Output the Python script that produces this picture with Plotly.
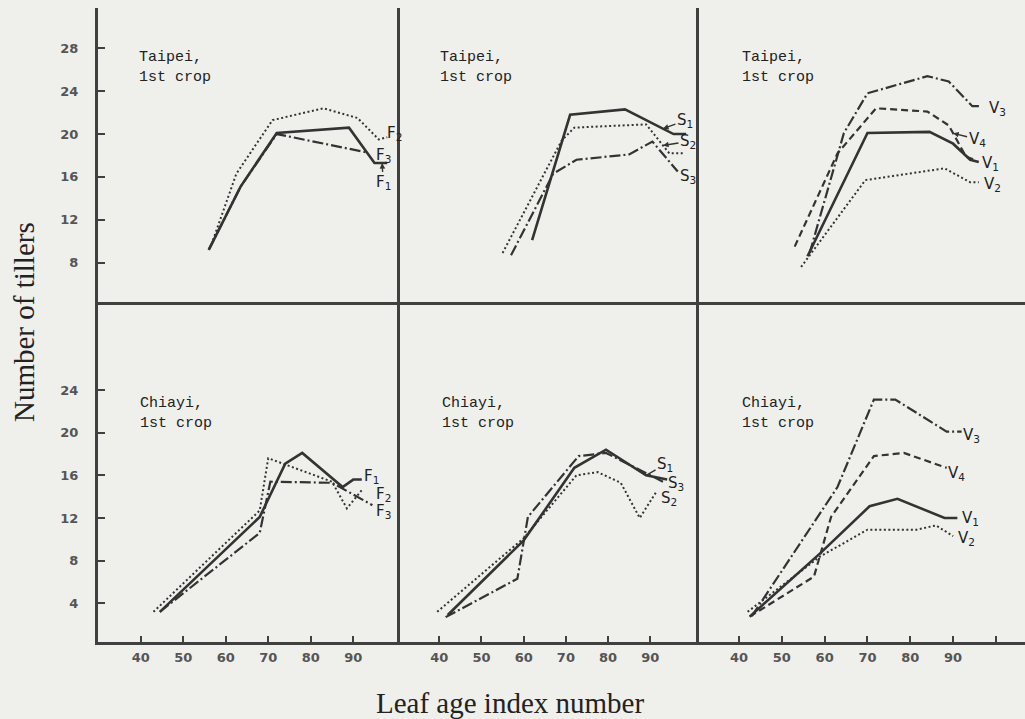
import numpy as np
import plotly.graph_objects as go

# ---------------- data ----------------
# Taipei, 1st crop - F series
tp_F1_x = [56, 63.5, 72, 89, 95, 98]
tp_F1_y = [9.2, 15.1, 20.1, 20.6, 17.3, 17.3]
tp_F2_x = [57, 62.5, 71, 83, 91, 96, 98]
tp_F2_y = [10.1, 16.3, 21.3, 22.4, 21.5, 19.5, 19.7]
tp_F3_x = [56, 63.5, 72, 90, 93]
tp_F3_y = [9.2, 15.1, 20.0, 18.6, 18.3]
# Taipei, 1st crop - S series
tp_S1_x = [62, 71, 84, 95.5, 98.5]
tp_S1_y = [10.1, 21.8, 22.3, 20.0, 20.0]
tp_S2_x = [55, 69, 72, 89, 94.5, 98]
tp_S2_y = [8.9, 19.4, 20.6, 20.9, 18.2, 18.2]
tp_S3_x = [57, 67, 72.5, 85, 90.5, 96.5]
tp_S3_y = [8.7, 16.3, 17.6, 18.1, 19.3, 16.5]
# Taipei, 1st crop - V series
tp_V1_x = [56, 70, 84.5, 90, 94, 96]
tp_V1_y = [8.6, 20.1, 20.2, 19.1, 17.6, 17.4]
tp_V2_x = [54.5, 69.5, 88, 94, 96]
tp_V2_y = [7.6, 15.7, 16.8, 15.5, 15.5]
tp_V3_x = [56.5, 64.5, 70, 84, 89, 94.5, 96.5]
tp_V3_y = [8.9, 20.1, 23.8, 25.4, 24.9, 22.6, 22.6]
tp_V4_x = [53, 63, 72, 84, 89, 93, 95]
tp_V4_y = [9.5, 18.2, 22.4, 22.1, 20.8, 17.9, 17.6]
# Chiayi, 1st crop - F series
cy_F1_x = [44.5, 68, 74, 78, 87.5, 90, 92]
cy_F1_y = [3.2, 12.1, 17.1, 18.1, 14.9, 15.6, 15.6]
cy_F2_x = [43, 68, 70, 79, 85, 88.5, 92]
cy_F2_y = [3.2, 12.7, 17.6, 16.3, 15.4, 12.9, 14.6]
cy_F3_x = [44.5, 68, 70.5, 85, 94.5]
cy_F3_y = [3.2, 10.6, 15.4, 15.3, 13.2]
# Chiayi, 1st crop - S series
cy_S1_x = [42, 60, 72, 79.5, 89, 94]
cy_S1_y = [2.9, 9.9, 16.7, 18.4, 16.0, 15.6]
cy_S2_x = [39.5, 60, 72.5, 77.5, 83, 87.5, 91.5]
cy_S2_y = [3.2, 10.1, 16.0, 16.3, 15.3, 12.0, 14.5]
cy_S3_x = [41.5, 58.5, 61, 73, 79.5, 93]
cy_S3_y = [2.7, 6.3, 12.1, 17.8, 18.1, 15.4]
# Chiayi, 1st crop - V series
cy_V1_x = [42.5, 59, 70.5, 77, 88, 91]
cy_V1_y = [2.75, 8.7, 13.1, 13.8, 12.0, 12.0]
cy_V2_x = [42, 59, 70, 81.5, 86, 90]
cy_V2_y = [3.2, 8.4, 10.9, 10.9, 11.3, 10.3]
cy_V3_x = [43, 63, 71.5, 76.5, 88.5, 92]
cy_V3_y = [2.8, 14.9, 23.1, 23.1, 20.1, 20.1]
cy_V4_x = [42.5, 57.5, 61.5, 71.5, 78.5, 88.5]
cy_V4_y = [2.75, 6.5, 12.1, 17.8, 18.1, 16.7]

panel_titles = ["Taipei,<br>1st crop"] * 3 + ["Chiayi,<br>1st crop"] * 3
top_yticks = [8, 12, 16, 20, 24, 28]
bottom_yticks = [4, 8, 12, 16, 20, 24]
xticks = [40, 50, 60, 70, 80, 90]
xticks_last = [40, 50, 60, 70, 80, 90, 100]
y_title = "Number of tillers"
x_title = "Leaf age index number"

# ---------------- layout geometry (pixels) ----------------
W, H = 1025, 719
L, R, T, B = 98, 0, 8, 77
PW, PH = W - L - R, H - T - B
col_px = [(98, 400), (400, 699), (699, 1025)]
row_px = [(8, 302), (302, 642)]


def px_x(px):
    return (px - L) / PW


def px_y(py):
    return (H - B - py) / PH


x_ranges = [[29.95, 101.0], [30.69, 101.54], [30.65, 106.8]]
y_ranges = [[4.33, 31.76], [0.37, 32.25]]

INK = "#333333"
FRAME = "#404040"
BG = "#efefec"

dash_styles = {
    "solid": dict(dash="solid", width=2.6),
    "dot": dict(dash="2px,2.5px", width=2.0),
    "dashdot": dict(dash="11px,3px,2px,3px", width=2.2),
    "dash": dict(dash="7px,4px", width=2.2),
}

# series: (panel, label, xs, ys, style, label placement)
# placement: (anchor_x or None, dx, dy, arrow, arrowhead) -- pixel offsets, dy down-positive
series = [
    (0, "F<sub>1</sub>", tp_F1_x, tp_F1_y, "solid", (96.8, 1, 20, True, 2)),
    (0, "F<sub>2</sub>", tp_F2_x, tp_F2_y, "dot", (None, 7, -4, False, 0)),
    (0, "F<sub>3</sub>", tp_F3_x, tp_F3_y, "dashdot", (None, 17, 3, False, 0)),
    (1, "S<sub>1</sub>", tp_S1_x, tp_S1_y, "solid", (93, 22, -8, True, 2)),
    (1, "S<sub>2</sub>", tp_S2_x, tp_S2_y, "dot", (93, 25, -4, True, 2)),
    (1, "S<sub>3</sub>", tp_S3_x, tp_S3_y, "dashdot", (None, 10, 5, False, 0)),
    (2, "V<sub>1</sub>", tp_V1_x, tp_V1_y, "solid", (None, 12, 2, False, 0)),
    (2, "V<sub>2</sub>", tp_V2_x, tp_V2_y, "dot", (None, 14, 2, False, 0)),
    (2, "V<sub>3</sub>", tp_V3_x, tp_V3_y, "dashdot", (None, 17, 2, False, 0)),
    (2, "V<sub>4</sub>", tp_V4_x, tp_V4_y, "dash", (90, 24, 6, True, 2)),
    (3, "F<sub>1</sub>", cy_F1_x, cy_F1_y, "solid", (None, 10, -3, False, 0)),
    (3, "F<sub>2</sub>", cy_F2_x, cy_F2_y, "dot", (None, 22, 4, False, 0)),
    (3, "F<sub>3</sub>", cy_F3_x, cy_F3_y, "dashdot", (None, 11, 6, False, 0)),
    (4, "S<sub>1</sub>", cy_S1_x, cy_S1_y, "solid", (89, 19, -11, True, 0)),
    (4, "S<sub>2</sub>", cy_S2_x, cy_S2_y, "dot", (None, 12, 7, False, 0)),
    (4, "S<sub>3</sub>", cy_S3_x, cy_S3_y, "dashdot", (None, 13, 2, False, 0)),
    (5, "V<sub>1</sub>", cy_V1_x, cy_V1_y, "solid", (None, 13, 1, False, 0)),
    (5, "V<sub>2</sub>", cy_V2_x, cy_V2_y, "dot", (None, 13, 2, False, 0)),
    (5, "V<sub>3</sub>", cy_V3_x, cy_V3_y, "dashdot", (None, 10, 4, False, 0)),
    (5, "V<sub>4</sub>", cy_V4_x, cy_V4_y, "dash", (None, 10, 6, False, 0)),
]

fig = go.Figure()
layout = dict(
    width=W, height=H,
    margin=dict(l=L, r=R, t=T, b=B, pad=0),
    paper_bgcolor=BG, plot_bgcolor=BG,
    showlegend=False,
    font=dict(family="DejaVu Sans", color=INK),
)

tick_font = dict(family="DejaVu Sans", size=13, color="#555555", weight="bold")

for p in range(6):
    r, c = divmod(p, 3)
    n = "" if p == 0 else str(p + 1)
    x0, x1 = col_px[c]
    y0, y1 = row_px[r]
    xa = dict(
        domain=[px_x(x0), min(1.0, px_x(x1))],
        range=x_ranges[c], anchor="y" + n,
        showgrid=False, zeroline=False,
        showline=True, linecolor=FRAME, linewidth=3,
        fixedrange=True,
    )
    if r == 1:
        tv = xticks_last if c == 2 else xticks
        xa.update(tickvals=tv, ticktext=[str(v) if v < 100 else "" for v in tv],
                  ticks="inside", ticklen=6, tickwidth=2, tickcolor=FRAME,
                  tickfont=tick_font, ticklabelstandoff=1)
    else:
        xa.update(showticklabels=False, ticks="")
    ya = dict(
        domain=[px_y(y1), px_y(y0)],
        range=y_ranges[r], anchor="x" + n,
        showgrid=False, zeroline=False,
        showline=True, linecolor=FRAME, linewidth=3,
        fixedrange=True,
    )
    if c == 0:
        tv = top_yticks if r == 0 else bottom_yticks
        ya.update(tickvals=tv, ticks="inside", ticklen=7, tickwidth=2,
                  tickcolor=FRAME, tickfont=tick_font, ticklabelstandoff=14)
    else:
        ya.update(showticklabels=False, ticks="")
    layout["xaxis" + n] = xa
    layout["yaxis" + n] = ya

annotations = []
for p, lab, xs, ys, style, place in series:
    n = "" if p == 0 else str(p + 1)
    st = dash_styles[style]
    fig.add_trace(go.Scatter(
        x=xs, y=ys, mode="lines", xaxis="x" + n, yaxis="y" + n,
        line=dict(color=INK, width=st["width"], dash=st["dash"]),
        hoverinfo="skip",
    ))
    at, dx, dy, arrow, head = place
    if at is None:
        ax_, ay_ = xs[-1], ys[-1]
    else:
        ax_, ay_ = at, float(np.interp(at, xs, ys))
    if arrow:
        annotations.append(dict(
            x=ax_, y=ay_, xref="x" + n, yref="y" + n, text=lab,
            showarrow=True, ax=dx, ay=dy, arrowhead=head, arrowsize=0.8,
            arrowwidth=1.4, arrowcolor=INK, standoff=0,
            font=dict(family="DejaVu Sans", size=15, color="#222222"),
        ))
    else:
        annotations.append(dict(
            x=ax_, y=ay_, xref="x" + n, yref="y" + n, text=lab,
            showarrow=False, xshift=dx, yshift=-dy,
            xanchor="center", yanchor="middle",
            font=dict(family="DejaVu Sans", size=15, color="#222222"),
        ))

# panel titles
title_pos = [(137, 47), (438, 47), (740, 47), (138, 393), (440, 393), (740, 393)]
for p, (tx, ty) in enumerate(title_pos):
    annotations.append(dict(
        x=px_x(tx), y=px_y(ty), xref="paper", yref="paper",
        text=panel_titles[p], showarrow=False, align="left",
        xanchor="left", yanchor="top",
        font=dict(family="Liberation Mono", size=15, color="#222222"),
    ))

# axis titles
annotations.append(dict(
    x=px_x(24), y=px_y(322), xref="paper", yref="paper", text=y_title,
    textangle=-90, showarrow=False, xanchor="center", yanchor="middle",
    font=dict(family="Liberation Serif", size=29, color="#222222"),
))
annotations.append(dict(
    x=px_x(510), y=px_y(703), xref="paper", yref="paper", text=x_title,
    showarrow=False, xanchor="center", yanchor="middle",
    font=dict(family="Liberation Serif", size=29, color="#222222"),
))

layout["annotations"] = annotations
fig.update_layout(**layout)
fig.write_html("out.html", config=dict(displayModeBar=False))
